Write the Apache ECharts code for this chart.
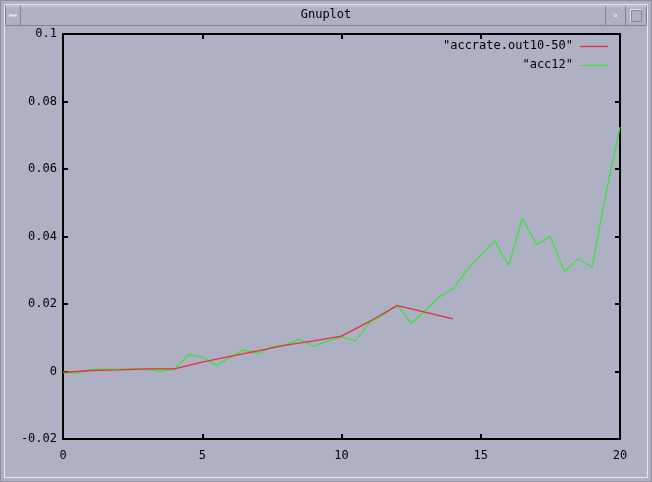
<!DOCTYPE html>
<html>
<head>
<meta charset="utf-8">
<script src="https://cdn.jsdelivr.net/npm/echarts@6/dist/echarts.min.js"></script>
<style>
html,body{margin:0;padding:0;background:#aeb1c3;}
#c{width:652px;height:482px;}
</style>
</head>
<body>
<div id="c"></div>
<script>
var windowTitle = "Gnuplot";
var seriesNames = ['"accrate.out10-50"', '"acc12"'];
var xTicks = [0, 5, 10, 15, 20];
var yTicks = [-0.02, 0, 0.02, 0.04, 0.06, 0.08, 0.1];

// "accrate.out10-50": x = 0..14 step 1
var redX = [0, 1, 2, 3, 4, 5, 6, 7, 8, 9, 10, 11, 12, 13, 14];
var redY = [-0.0003, 0.0003, 0.0005, 0.0008, 0.0008, 0.0028, 0.0045, 0.0061, 0.0078, 0.0091, 0.0105, 0.0148, 0.0195, 0.0176, 0.0156];

// "acc12": x = 0..20 step 0.5
var greenX = [0, 0.5, 1, 1.5, 2, 2.5, 3, 3.5, 4, 4.5, 5, 5.5, 6, 6.5, 7, 7.5, 8, 8.5, 9, 9.5, 10,
  10.5, 11, 11.5, 12, 12.5, 13, 13.5, 14, 14.5, 15, 15.5, 16, 16.5, 17, 17.5, 18, 18.5, 19, 19.5, 20];
var greenY = [-0.0003, -0.0005, 0.0006, 0.0007, 0.0007, 0.0007, 0.0007, 0.0, 0.0007, 0.0049, 0.0043, 0.0018, 0.0041, 0.0064, 0.0053, 0.0074, 0.0079, 0.0096, 0.0074, 0.009, 0.0103,
  0.009, 0.0144, 0.0168, 0.0197, 0.0143, 0.018, 0.022, 0.0245, 0.03, 0.0344, 0.0387, 0.0314, 0.0454, 0.0376, 0.040, 0.0296, 0.0334, 0.0309, 0.053, 0.0724];

function pairs(xs, ys){ return xs.map(function(x,i){return [x, ys[i]];}); }

var RED = '#e6303c', GREEN = '#3ee03e';
var font = 'DejaVu Sans Mono';
var fontCss = '12px "DejaVu Sans Mono"';

var chart = echarts.init(document.getElementById('c'), null, {renderer:'canvas'});
var fmt = function(v){ return String(+v.toFixed(2)); };
var axisLine = {show:true, onZero:false, lineStyle:{color:'#000', width:2}};
var tick = {show:true, inside:true, length:5, lineStyle:{color:'#000', width:2}};

chart.setOption({
  backgroundColor:'#aeb1c3',
  animation:false,
  textStyle:{fontFamily:font},
  grid:{left:63, right:32, top:34, bottom:43, containLabel:false},
  xAxis:[
    {type:'value', min:0, max:20, interval:5, position:'bottom', axisLine:axisLine, axisTick:tick,
     splitLine:{show:false}, axisLabel:{color:'#000', fontFamily:font, fontSize:12, margin:11, formatter:fmt}},
    {type:'value', min:0, max:20, interval:5, position:'top', axisLine:axisLine, axisTick:tick,
     splitLine:{show:false}, axisLabel:{show:false}}
  ],
  yAxis:[
    {type:'value', min:-0.02, max:0.1, interval:0.02, position:'left', axisLine:axisLine, axisTick:tick,
     splitLine:{show:false}, axisLabel:{color:'#000', fontFamily:font, fontSize:12, margin:6, formatter:fmt}},
    {type:'value', min:-0.02, max:0.1, interval:0.02, position:'right', axisLine:axisLine, axisTick:tick,
     splitLine:{show:false}, axisLabel:{show:false}}
  ],
  legend:{show:false},
  series:[
    {name:seriesNames[0], type:'line', data:pairs(redX, redY), showSymbol:false, symbol:'none',
     lineStyle:{color:RED, width:1.3}, itemStyle:{color:RED}, z:3},
    {name:seriesNames[1], type:'line', data:pairs(greenX, greenY), showSymbol:false, symbol:'none',
     lineStyle:{color:GREEN, width:1.3}, itemStyle:{color:GREEN}, z:2}
  ],
  graphic:[
    // window frame
    {type:'rect', shape:{x:0.5,y:0.5,width:651,height:481}, style:{fill:null, stroke:'#8c8fa0', lineWidth:1}, silent:true},
    {type:'rect', shape:{x:4.5,y:4.5,width:643,height:473}, style:{fill:null, stroke:'#e6e8f0', lineWidth:1}, silent:true},
    {type:'rect', shape:{x:5.5,y:5.5,width:641,height:20}, style:{fill:'#aeb1c3', stroke:'#7f8294', lineWidth:1}, silent:true},
    {type:'line', shape:{x1:6,y1:6,x2:646,y2:6}, style:{stroke:'#e6e8f0', lineWidth:1}, silent:true},
    {type:'line', shape:{x1:20.5,y1:6,x2:20.5,y2:25}, style:{stroke:'#7f8294', lineWidth:1}, silent:true},
    {type:'line', shape:{x1:605.5,y1:6,x2:605.5,y2:25}, style:{stroke:'#7f8294', lineWidth:1}, silent:true},
    {type:'line', shape:{x1:625.5,y1:6,x2:625.5,y2:25}, style:{stroke:'#7f8294', lineWidth:1}, silent:true},
    {type:'line', shape:{x1:9,y1:15.5,x2:17,y2:15.5}, style:{stroke:'#e6e8f0', lineWidth:2}, silent:true},
    {type:'rect', shape:{x:614.5,y:14.5,width:2,height:2}, style:{fill:null, stroke:'#e6e8f0', lineWidth:1}, silent:true},
    {type:'rect', shape:{x:630.5,y:9.5,width:11,height:12}, style:{fill:null, stroke:'#e6e8f0', lineWidth:1}, silent:true},
    {type:'rect', shape:{x:631.5,y:10.5,width:10,height:11}, style:{fill:null, stroke:'#7f8294', lineWidth:1}, silent:true},
    {type:'text', x:326, y:15, style:{text:windowTitle, fill:'#000', font:fontCss, textAlign:'center', textVerticalAlign:'middle'}, silent:true},
    // legend
    {type:'text', x:573, y:46, style:{text:seriesNames[0], fill:'#000', font:fontCss, textAlign:'right', textVerticalAlign:'middle'}, silent:true},
    {type:'line', shape:{x1:580,y1:46.5,x2:608,y2:46.5}, style:{stroke:RED, lineWidth:1.3}, silent:true},
    {type:'text', x:573, y:65, style:{text:seriesNames[1], fill:'#000', font:fontCss, textAlign:'right', textVerticalAlign:'middle'}, silent:true},
    {type:'line', shape:{x1:580,y1:65.5,x2:608,y2:65.5}, style:{stroke:GREEN, lineWidth:1.3}, silent:true}
  ]
});
</script>
</body>
</html>
